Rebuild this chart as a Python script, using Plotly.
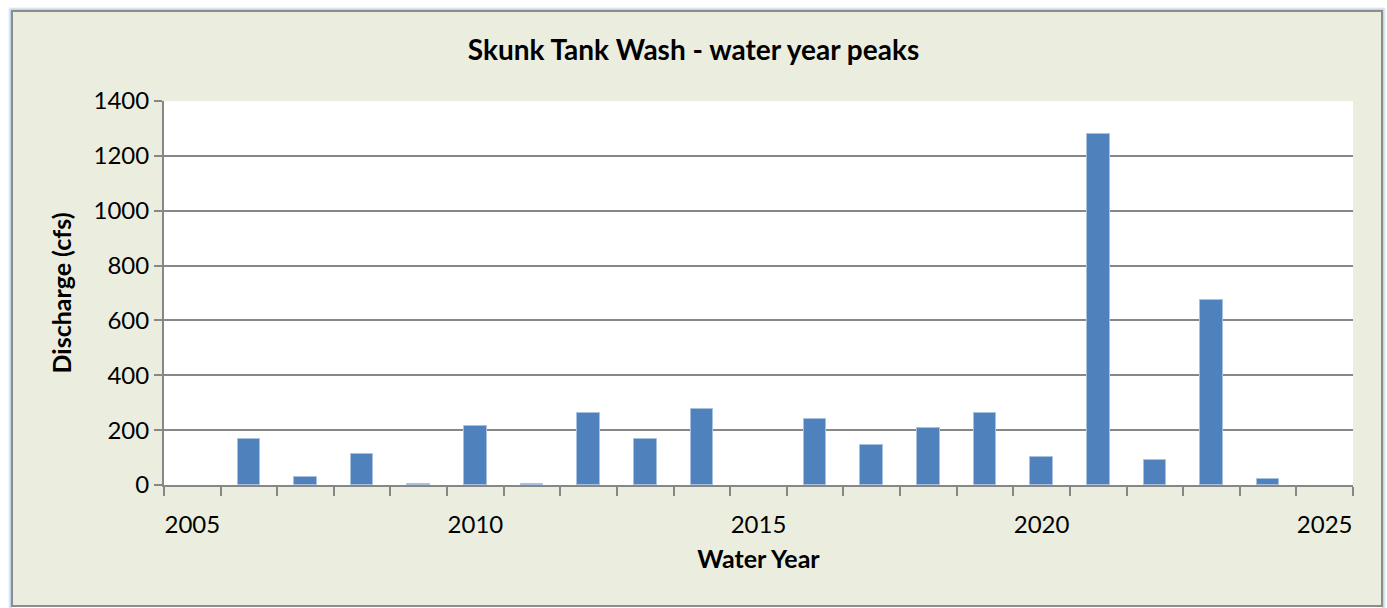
import plotly.graph_objects as go

# water year peak discharge (cfs)
years = [2006, 2007, 2008, 2009, 2010, 2011, 2012, 2013, 2014, 2015,
         2016, 2017, 2018, 2019, 2020, 2021, 2022, 2023, 2024]
peaks = [169, 29, 113, 3, 214, 2, 262, 168, 277, None,
         240, 146, 209, 264, 102, 1278, 92, 674, 21]

x_ticks = [2005, 2010, 2015, 2020, 2025]
y_ticks = [0, 200, 400, 600, 800, 1000, 1200, 1400]

W, H = 1387, 608
L, R, T, B = 164, 34, 101, 123
pw, ph = W - L - R, H - T - B


def px(x):
    return (x - L) / pw


def py(y):
    return (H - B - y) / ph


FONT = "Lato"
GRID = "#878787"
BG = "#EBEEDF"

fig = go.Figure()
fig.add_trace(go.Bar(
    x=years, y=peaks, width=0.4,
    marker=dict(color="#4F81BD", line=dict(color="#A9C1E0", width=1)),
    hoverinfo="x+y",
))

shapes = []
# white margins outside the frame
for (a, b, c, d) in [(0, 9, 0, H), (0, W, 0, 8), (1385, W, 0, H), (0, W, 607, H)]:
    shapes.append(dict(type="rect", xref="paper", yref="paper",
                       x0=px(a), x1=px(b), y0=py(d), y1=py(c),
                       fillcolor="white", line=dict(width=0), layer="below"))
# blue glow around the chart frame
for i, c in enumerate(["#E4EEFB", "#C9DDF7", "#A9C9F3"]):
    shapes.append(dict(type="rect", xref="paper", yref="paper",
                       x0=px(9 + i), x1=px(1385 - i), y0=py(612), y1=py(8 + i),
                       line=dict(color=c, width=1), layer="below"))
# grey frame
shapes.append(dict(type="rect", xref="paper", yref="paper",
                   x0=px(12), x1=px(1382), y0=py(606), y1=py(11),
                   line=dict(color="#8C8C8C", width=2), layer="below"))

fig.update_layout(
    width=W, height=H,
    margin=dict(l=L, r=R, t=T, b=B),
    paper_bgcolor=BG, plot_bgcolor="white",
    font=dict(family=FONT, color="black", size=24),
    title=dict(text="<b>Skunk Tank Wash - water year peaks</b>",
               x=0.5, xanchor="center", y=1 - 50 / H, yanchor="middle",
               font=dict(size=28)),
    showlegend=False,
    bargap=0,
    shapes=shapes,
    xaxis=dict(
        range=[2004.5, 2025.5], tickvals=x_ticks,
        ticks="outside", ticklen=17, tickcolor="rgba(0,0,0,0)",
        showgrid=False, zeroline=False,
        showline=True, linecolor=GRID, linewidth=2,
        minor=dict(tick0=2004.5, dtick=1, ticks="outside", ticklen=9,
                   tickcolor=GRID, tickwidth=2, showgrid=False),
        title=dict(text="<b>Water Year</b>", standoff=14, font=dict(size=25)),
        fixedrange=True,
    ),
    yaxis=dict(
        range=[0, 1400], tickvals=y_ticks,
        ticks="outside", ticklen=8, tickcolor=GRID, tickwidth=2,
        showgrid=True, gridcolor=GRID, gridwidth=2,
        zeroline=False, showline=True, linecolor=GRID, linewidth=2,
        title=dict(text="<b>Discharge (cfs)</b>", standoff=15, font=dict(size=25)),
        fixedrange=True,
    ),
)

fig.write_html(
    "out.html",
    config={"displayModeBar": False},
    post_script="document.body.style.margin='0';document.body.style.overflow='hidden';",
)
